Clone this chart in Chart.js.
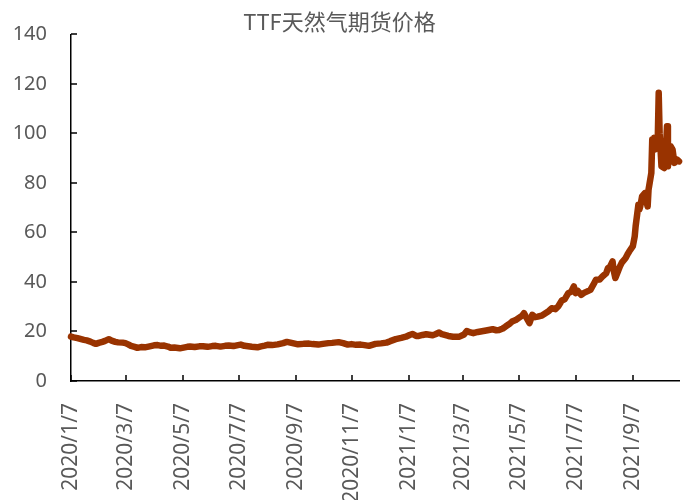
<!DOCTYPE html>
<html>
<head>
<meta charset="utf-8">
<script src="https://cdn.jsdelivr.net/npm/chart.js@4.4.0/dist/chart.umd.min.js"></script>
<style>
    html, body { margin: 0; padding: 0; background: #fff; }
    #wrap { width: 689px; height: 500px; }
</style>
</head>
<body>
<div id="wrap"><canvas id="ttfChart"></canvas></div>
<script>
// Trading dates (not every day, just enough to follow the line)
const dates = [
    '2020-01-07','2020-01-10','2020-01-14','2020-01-17','2020-01-21','2020-01-24','2020-01-28','2020-01-31',
    '2020-02-03','2020-02-06','2020-02-10','2020-02-13','2020-02-17','2020-02-20','2020-02-24','2020-02-27',
    '2020-03-03','2020-03-06','2020-03-09','2020-03-12','2020-03-16','2020-03-19','2020-03-23','2020-03-27','2020-03-31',
    '2020-04-06','2020-04-10','2020-04-14','2020-04-17','2020-04-21','2020-04-24','2020-04-28',
    '2020-05-04','2020-05-08','2020-05-12','2020-05-15','2020-05-20','2020-05-25','2020-05-29',
    '2020-06-03','2020-06-08','2020-06-12','2020-06-17','2020-06-22','2020-06-26',
    '2020-07-01','2020-07-06','2020-07-09','2020-07-13','2020-07-17','2020-07-21','2020-07-27','2020-07-31',
    '2020-08-04','2020-08-07','2020-08-12','2020-08-18','2020-08-24','2020-08-28',
    '2020-09-02','2020-09-09','2020-09-15','2020-09-21','2020-09-25',
    '2020-10-01','2020-10-06','2020-10-12','2020-10-16','2020-10-23','2020-10-28',
    '2020-11-02','2020-11-06','2020-11-11','2020-11-16','2020-11-20','2020-11-25',
    '2020-12-02','2020-12-08','2020-12-14','2020-12-18','2020-12-24','2020-12-30',
    '2021-01-04','2021-01-08','2021-01-11','2021-01-15','2021-01-18','2021-01-22','2021-01-26',
    '2021-02-02','2021-02-05','2021-02-09','2021-02-12','2021-02-16','2021-02-19','2021-02-24',
    '2021-03-03','2021-03-08','2021-03-11','2021-03-15','2021-03-18','2021-03-23','2021-03-29',
    '2021-04-01','2021-04-08','2021-04-12','2021-04-15','2021-04-19','2021-04-22','2021-04-26','2021-04-29',
    '2021-05-03','2021-05-06','2021-05-10','2021-05-12','2021-05-14','2021-05-18','2021-05-21','2021-05-24','2021-05-27','2021-05-31',
    '2021-06-03','2021-06-08','2021-06-11','2021-06-15','2021-06-18','2021-06-22','2021-06-25','2021-06-29',
    '2021-07-02','2021-07-05','2021-07-07','2021-07-09','2021-07-13','2021-07-16','2021-07-19','2021-07-23','2021-07-27','2021-07-29',
    '2021-08-02','2021-08-05','2021-08-09','2021-08-11','2021-08-13','2021-08-16','2021-08-17','2021-08-19','2021-08-20',
    '2021-08-24','2021-08-26','2021-08-30',
    '2021-09-01','2021-09-03','2021-09-07','2021-09-09','2021-09-10','2021-09-13','2021-09-14','2021-09-15','2021-09-17',
    '2021-09-20','2021-09-22','2021-09-23','2021-09-24','2021-09-27','2021-09-28','2021-09-29','2021-09-30',
    '2021-10-01','2021-10-04','2021-10-05','2021-10-06','2021-10-07','2021-10-08','2021-10-11','2021-10-12','2021-10-13',
    '2021-10-14','2021-10-15','2021-10-18','2021-10-20','2021-10-22','2021-10-25','2021-10-27'
];

const prices = [
    17.9, 17.6, 17.3, 17.0, 16.6, 16.4, 15.9, 15.4,
    15.0, 15.4, 15.8, 16.2, 16.9, 16.3, 15.8, 15.6,
    15.5, 15.3, 14.8, 14.2, 13.8, 13.4, 13.7, 13.6, 13.9,
    14.4, 14.5, 14.2, 14.3, 13.9, 13.4, 13.5,
    13.2, 13.5, 13.8, 13.9, 13.7, 14.0, 14.0,
    13.8, 14.1, 14.2, 13.9, 14.2, 14.3,
    14.1, 14.5, 14.7, 14.2, 14.0, 13.8, 13.6, 14.0,
    14.3, 14.6, 14.5, 14.8, 15.3, 15.8,
    15.4, 14.8, 15.0, 15.1, 14.9,
    14.7, 15.0, 15.3, 15.4, 15.7, 15.3,
    14.7, 14.9, 14.6, 14.7, 14.5, 14.2,
    15.0, 15.2, 15.5, 16.1, 16.9, 17.4,
    17.9, 18.6, 19.0, 18.2, 18.2, 18.6, 18.9,
    18.5, 18.9, 19.6, 18.9, 18.5, 18.2, 17.9,
    17.9, 18.8, 20.2, 19.6, 19.3, 19.8, 20.2,
    20.4, 20.9, 20.5, 20.6, 21.2, 22.0, 23.0, 24.0,
    24.6, 25.4, 26.4, 27.4, 26.0, 23.4, 26.7, 25.8, 26.0, 26.4,
    27.1, 28.3, 29.4, 29.0, 30.1, 32.5, 33.0, 35.5,
    36.0, 38.2, 35.5, 36.5, 34.8, 35.6, 36.1, 36.8, 39.5, 40.9,
    41.0, 42.2, 43.5, 45.6, 46.0, 48.3, 45.0, 41.6, 42.5,
    46.3, 47.8, 49.6,
    51.0, 52.3, 54.5, 58.4, 62.5, 71.2, 69.2, 70.5, 74.6,
    75.9, 72.0, 70.5, 77.3, 84.0, 97.5, 96.0, 98.2,
    93.5, 98.0, 116.4, 100.0, 93.5, 86.7, 86.0, 92.8, 95.0,
    102.9, 86.7, 94.8, 93.5, 88.1, 89.4, 88.7
];

const tickDates = ['2020/1/7','2020/3/7','2020/5/7','2020/7/7','2020/9/7','2020/11/7',
                   '2021/1/7','2021/3/7','2021/5/7','2021/7/7','2021/9/7'];
const yMin = 0;
const yMax = 140;
const yStep = 20;

// Excel date axis: position by calendar day counted from the first date
const startMs = Date.UTC(2020, 0, 7);
function dayOf(s) {
    const p = s.split(/[-\/]/).map(Number);
    return (Date.UTC(p[0], p[1] - 1, p[2]) - startMs) / 86400000;
}

const points = dates.map((d, i) => ({ x: dayOf(d), y: prices[i] }));
const tickLabels = {};
tickDates.forEach(d => { tickLabels[dayOf(d)] = d; });

const labelColor = '#595959';
const axisColor = '#000000';

// Excel draws short tick marks on the inside of the axes
const innerTicks = {
    id: 'innerTicks',
    afterDraw(chart) {
        const { ctx, chartArea, scales } = chart;
        ctx.save();
        ctx.strokeStyle = axisColor;
        ctx.lineWidth = 1.5;
        ctx.beginPath();
        scales.x.ticks.forEach(t => {
            const px = Math.round(scales.x.getPixelForValue(t.value));
            ctx.moveTo(px, chartArea.bottom);
            ctx.lineTo(px, chartArea.bottom - 6);
        });
        scales.y.ticks.forEach(t => {
            const py = Math.round(scales.y.getPixelForValue(t.value));
            ctx.moveTo(chartArea.left, py);
            ctx.lineTo(chartArea.left + 6, py);
        });
        ctx.stroke();
        ctx.restore();
    }
};

new Chart(document.getElementById('ttfChart'), {
    type: 'line',
    data: {
        datasets: [{
            label: 'TTF',
            data: points,
            borderColor: '#993300',
            backgroundColor: '#993300',
            borderWidth: 6.5,
            pointRadius: 0,
            tension: 0,
            borderJoinStyle: 'round',
            borderCapStyle: 'round',
            clip: 8
        }]
    },
    options: {
        responsive: true,
        maintainAspectRatio: false,
        animation: false,
        layout: { padding: { left: 0, right: 10, top: 0, bottom: 0 } },
        plugins: {
            legend: { display: false },
            tooltip: { enabled: false },
            title: {
                display: true,
                text: 'TTF天然气期货价格',
                color: labelColor,
                font: { family: '"Noto Sans CJK SC", "Noto Sans"', size: 22, weight: 'normal' },
                padding: { top: 8, bottom: 0 }
            }
        },
        scales: {
            x: {
                type: 'linear',
                min: 0,
                max: dayOf(dates[dates.length - 1]),
                afterBuildTicks: axis => {
                    axis.ticks = tickDates.map(d => ({ value: dayOf(d) }));
                },
                afterFit: axis => { axis.height = 119; },
                grid: { display: false },
                border: { display: true, color: axisColor, width: 1.5 },
                ticks: {
                    autoSkip: false,
                    maxRotation: 90,
                    minRotation: 90,
                    padding: 14,
                    color: labelColor,
                    font: { family: '"Noto Sans"', size: 21 },
                    callback: value => tickLabels[value] || ''
                }
            },
            y: {
                min: yMin,
                max: yMax,
                afterFit: axis => { axis.width = 71; },
                grid: { display: false },
                border: { display: true, color: axisColor, width: 1.5 },
                ticks: {
                    stepSize: yStep,
                    padding: 16,
                    color: labelColor,
                    font: { family: '"Noto Sans"', size: 20 }
                }
            }
        }
    },
    plugins: [innerTicks]
});
</script>
</body>
</html>
